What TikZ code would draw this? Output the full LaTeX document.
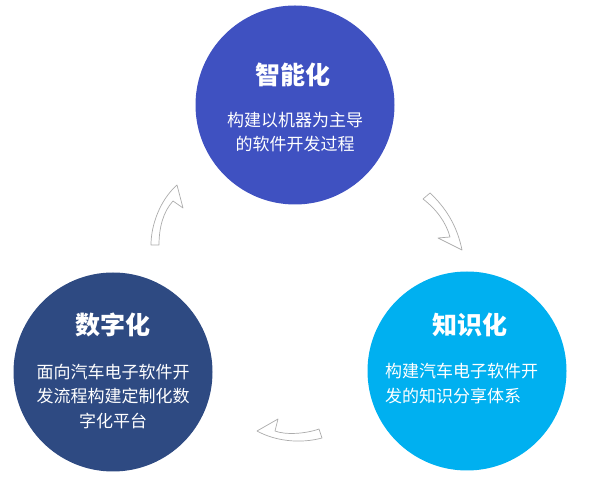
\documentclass[tikz,border=0pt]{standalone}
\usepackage{fontspec}
\newfontfamily\cjk{Noto Sans CJK SC}
\usetikzlibrary{positioning, calc}
\definecolor{smartblue}{HTML}{3F51C1}
\definecolor{knowblue}{HTML}{00B0F0}
\definecolor{digiblue}{HTML}{2E4A82}

\begin{document}
\begin{tikzpicture}[
    x=1pt, y=1pt,
    bubble/.style={circle, minimum size=199pt, inner sep=0pt},
    headline/.style={text=white, font=\cjk\bfseries\fontsize{25}{28}\selectfont},
    bodytext/.style={text=white, align=center, inner sep=0pt, font=\cjk\fontsize{17}{24.5}\selectfont},
    turn/.style={draw=gray!65, fill=white, line width=0.7pt, line join=round}
]
    \useasboundingbox (0,0) rectangle (589,487);

    \node[bubble, fill=smartblue] (smart) at (295,382) {};
    \node[bubble, fill=knowblue] (know) at (467,116) {};
    \node[bubble, fill=digiblue] (digi) at (113,115) {};

    \node[headline] (smarttitle) at (293,412) {智能化};
    \node[bodytext] (smarttext) at (295,355) {构建以机器为主导\\的软件开发过程};

    \node[headline] (knowtitle) at (470,162) {知识化};
    \node[bodytext, align=left, anchor=west] (knowtext) at (385,103.5) {构建汽车电子软件开\\发的知识分享体系};

    \node[headline] (digititle) at (113,162) {数字化};
    \node[bodytext] (digitext) at (113,91) {面向汽车电子软件开\\发流程构建定制化数\\字化平台};

    % curved block arrows between the circles
    \draw[turn] (151,242) .. controls (151,262) and (160,287) .. (177,302) -- (183,279) -- (173,286)
        .. controls (163,275) and (159,259) .. (159,242) -- cycle;
    \draw[turn] (430,294) .. controls (445,280) and (457,262) .. (462,237) -- (438,249) -- (450,250)
        .. controls (446,265) and (436,278) .. (423,288) -- cycle;
    \draw[turn] (322,49) .. controls (300,43) and (275,46) .. (257,56) -- (278,68) -- (275,56)
        .. controls (285,52) and (305,53) .. (319,58) -- cycle;
\end{tikzpicture}
\end{document}
